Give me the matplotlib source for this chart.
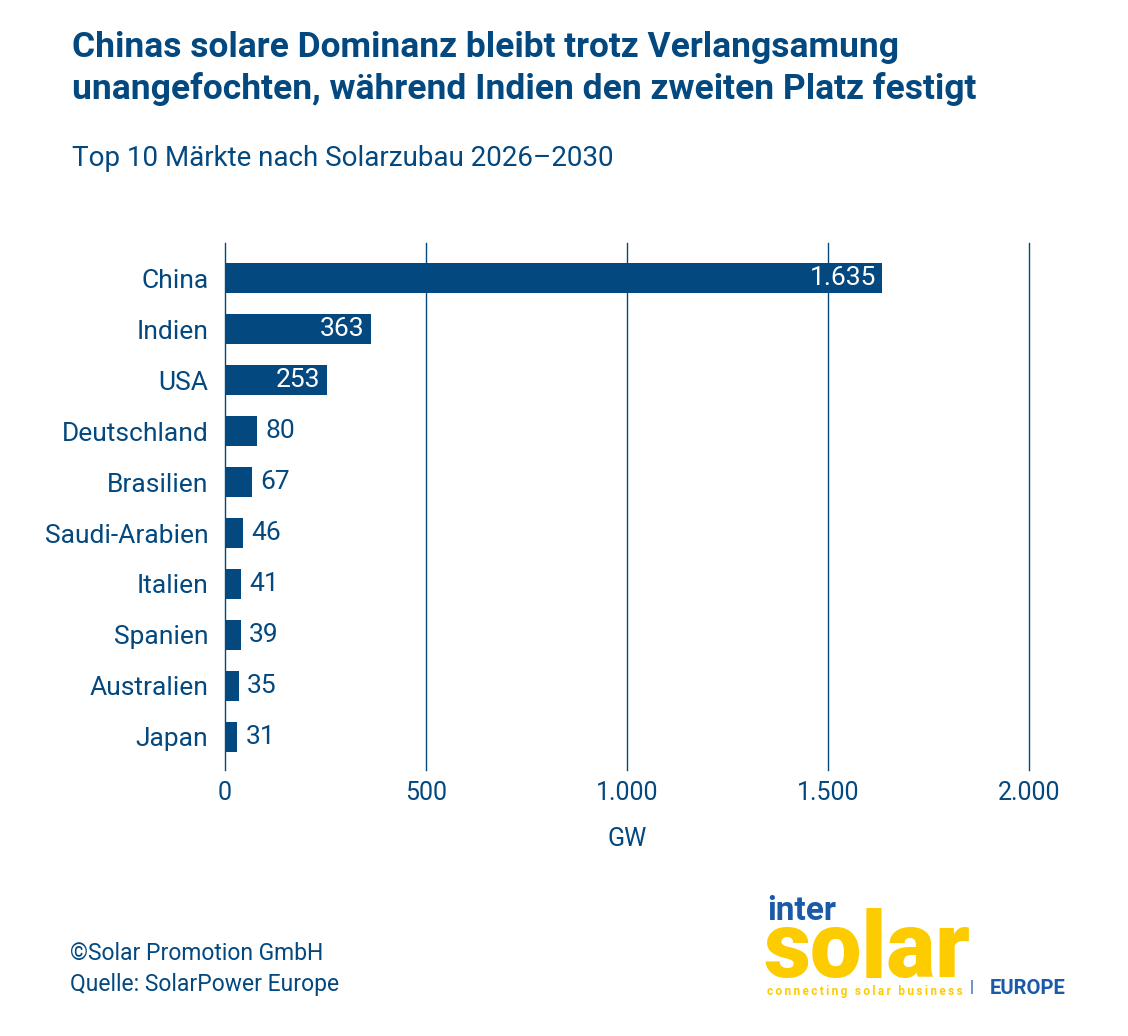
import matplotlib.pyplot as plt

countries = ["China", "Indien", "USA", "Deutschland", "Brasilien", "Saudi-Arabien",
             "Italien", "Spanien", "Australien", "Japan"]
gw = [1635, 363, 253, 80, 67, 46, 41, 39, 35, 31]
value_labels = ["1.635", "363", "253", "80", "67", "46", "41", "39", "35", "31"]
x_ticks = [0, 500, 1000, 1500, 2000]
x_tick_labels = ["0", "500", "1.000", "1.500", "2.000"]

blue = "#03487f"
yellow = "#fccb00"
plt.rcParams["font.family"] = ["Roboto", "DejaVu Sans"]

W, H = 1128, 1036
fig = plt.figure(figsize=(W / 100, H / 100), dpi=100)
fig.patch.set_facecolor("white")

ax = fig.add_axes([225 / W, 1 - 770 / H, 804 / W, 527 / H])
ypos = list(range(len(countries)))
ax.barh(ypos, gw, height=0.59, color=blue, zorder=3)
for x in x_ticks:
    ax.axvline(x, color=blue, lw=1, zorder=1, clip_on=False)
ax.set_xlim(0, 2000)
ax.set_ylim(9.65, -0.69)
for s in ax.spines.values():
    s.set_visible(False)
ax.set_yticks(ypos)
ax.set_yticklabels(countries, fontsize=19, color=blue)
ax.set_xticks(x_ticks)
ax.set_xticklabels(x_tick_labels, fontsize=18, color=blue)
ax.tick_params(axis="x", length=0, pad=8)
ax.tick_params(axis="y", length=0, pad=12)
ax.set_xlabel("GW", fontsize=18, color=blue, labelpad=16)

for i, (v, lab) in enumerate(zip(gw, value_labels)):
    if v > 200:
        ax.text(v - 16, i, lab, ha="right", va="center", fontsize=19, color="white", zorder=4)
    else:
        ax.text(v + 20, i, lab, ha="left", va="center", fontsize=19, color=blue, zorder=4)

# title and subtitle
fig.text(72 / W, 1 - 47 / H, "Chinas solare Dominanz bleibt trotz Verlangsamung",
         fontsize=25.5, fontweight="bold", color=blue, va="center")
fig.text(72 / W, 1 - 89 / H, "unangefochten, während Indien den zweiten Platz festigt",
         fontsize=25.5, fontweight="bold", color=blue, va="center")
fig.text(72 / W, 1 - 158 / H, "Top 10 Märkte nach Solarzubau 2026\u20132030",
         fontsize=20, color=blue, va="center")

# footer
fig.text(70 / W, 1 - 953 / H, "©Solar Promotion GmbH", fontsize=16.5, color=blue,
         va="center")
fig.text(70 / W, 1 - 985 / H, "Quelle: SolarPower Europe", fontsize=16.5, color=blue,
         va="center")

# logo
fig.text(767 / W, 1 - 911 / H, "inter", fontsize=24, fontweight="bold", color="#1a5aa6",
         va="center")
fig.text(763 / W, 1 - 977 / H, "solar", fontsize=66, fontweight="black", color=yellow,
         va="baseline")
fig.text(767 / W, 1 - 991 / H, "\u2009".join("connecting solar business"), fontsize=8.5,
         fontweight="bold", color=yellow, va="center")
fig.text(972 / W, 1 - 988 / H, "|", fontsize=12, color="#1a5aa6", va="center", ha="center")
fig.text(990 / W, 1 - 988 / H, "EUROPE", fontsize=14.5, fontweight="bold", color="#1a5aa6",
         va="center")

fig.savefig("out.png", dpi=100)
